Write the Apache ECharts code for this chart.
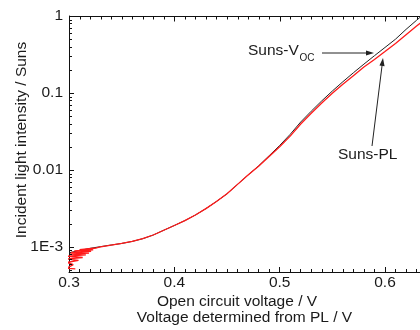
<!DOCTYPE html>
<html><head><meta charset="utf-8">
<script src="https://cdn.jsdelivr.net/npm/echarts@6/dist/echarts.min.js"></script>
<style>html,body{margin:0;padding:0;background:#fff}#c{width:420px;height:330px}</style>
</head><body><div id="c"></div>
<script>
// Suns-Voc (black)
const vocVoltage = [0.30,0.31,0.32,0.33,0.34,0.35,0.36,0.37,0.38,0.39,0.40,0.41,0.42,0.43,0.44,0.45,0.46,0.47,0.48,0.49,0.50,0.51,0.52,0.53,0.54,0.55,0.56,0.57,0.58,0.59,0.60,0.61,0.62,0.63,0.64];
const vocSuns = [8.4e-4,9.0e-4,9.6e-4,1.01e-3,1.06e-3,1.11e-3,1.18e-3,1.28e-3,1.43e-3,1.65e-3,1.9e-3,2.2e-3,2.6e-3,3.15e-3,3.9e-3,4.9e-3,6.5e-3,8.6e-3,0.0113,0.0153,0.0208,0.0290,0.042,0.058,0.079,0.106,0.140,0.183,0.237,0.305,0.39,0.50,0.67,0.88,1.15];
// Suns-PL (red), noisy at the low-intensity end
const plVoltage = [0.306,0.298,0.304,0.298,0.309,0.298,0.313,0.298,0.316,0.301,0.319,0.302,0.321,0.305,0.323,0.310,0.326,0.33,0.34,0.35,0.36,0.37,0.38,0.39,0.40,0.41,0.42,0.43,0.44,0.45,0.46,0.47,0.48,0.49,0.50,0.51,0.52,0.53,0.54,0.55,0.56,0.57,0.58,0.59,0.60,0.61,0.62,0.63,0.64];
const plSuns = [5.2e-4,5.3e-4,5.9e-4,6.3e-4,6.7e-4,7.0e-4,7.3e-4,7.6e-4,7.9e-4,8.1e-4,8.3e-4,8.5e-4,8.8e-4,8.9e-4,9.2e-4,9.2e-4,9.7e-4,1.0e-3,1.06e-3,1.11e-3,1.18e-3,1.28e-3,1.43e-3,1.65e-3,1.9e-3,2.2e-3,2.6e-3,3.15e-3,3.9e-3,4.9e-3,6.5e-3,8.6e-3,0.0112,0.0150,0.0200,0.0275,0.0395,0.0545,0.0740,0.099,0.130,0.168,0.217,0.272,0.345,0.44,0.57,0.74,0.95];
const xTickLabels = ['0.3','0.4','0.5','0.6'];
const xMajorTicks = [0.3,0.4,0.5,0.6];
const xMinorTicks = [0.31,0.32,0.33,0.34,0.35,0.36,0.37,0.38,0.39,0.41,0.42,0.43,0.44,0.45,0.46,0.47,0.48,0.49,0.51,0.52,0.53,0.54,0.55,0.56,0.57,0.58,0.59,0.61,0.62,0.63];
const yTickLabels = {'0':'1','-1':'0.1','-2':'0.01','-3':'1E-3'};
const yMinorTicks = [5e-4,6e-4,7e-4,8e-4,9e-4,2e-3,3e-3,4e-3,5e-3,6e-3,7e-3,8e-3,9e-3,2e-2,3e-2,4e-2,5e-2,6e-2,7e-2,8e-2,9e-2,0.2,0.3,0.4,0.5,0.6,0.7,0.8,0.9];

const FONT = "'Liberation Sans', Arial, sans-serif";
const TXT = '#1a1a1a';
const FS = 15.5;
const Y_TOP = 1;

function arrow(x1,y1,x2,y2){
  const dx=x2-x1, dy=y2-y1, L=Math.hypot(dx,dy), ux=dx/L, uy=dy/L, nx=-uy, ny=ux;
  const hl=8, hw=2.6, bx=x2-ux*hl, by=y2-uy*hl;
  return [
    {type:'line', shape:{x1:x1,y1:y1,x2:bx+ux*1,y2:by+uy*1}, style:{stroke:'#222',lineWidth:1}},
    {type:'polygon', shape:{points:[[x2,y2],[bx+nx*hw,by+ny*hw],[bx-nx*hw,by-ny*hw]]}, style:{fill:'#222'}}
  ];
}

const chart = echarts.init(document.getElementById('c'), null, {renderer:'canvas'});
chart.setOption({
  animation:false,
  backgroundColor:'#fff',
  grid:{left:69, top:16, width:421.3, bottom:58, containLabel:false, outerBoundsMode:'none'},
  xAxis:{
    type:'value', position:'bottom', min:0.3, max:0.7, interval:0.1,
    axisLine:{show:true, onZero:false, lineStyle:{color:'#111', width:1}},
    axisTick:{show:true, inside:true, length:5, lineStyle:{color:'#111'}},
    minorTick:{show:true, splitNumber:10, length:3, lineStyle:{color:'#111'}},
    splitLine:{show:false}, minorSplitLine:{show:false},
    axisLabel:{show:true, margin:3, color:TXT, fontFamily:FONT, fontSize:FS,
      formatter:v=>{const i=Math.round((v-0.3)*10);return (Math.abs(v-0.3-i*0.1)<1e-6 && xTickLabels[i])?xTickLabels[i]:'';}}
  },
  yAxis:{
    type:'log', logBase:10, min:4.73e-4, max:1,
    axisLine:{show:true, onZero:false, lineStyle:{color:'#111', width:1}},
    axisTick:{show:true, inside:true, length:5, lineStyle:{color:'#111'}},
    minorTick:{show:false}, splitLine:{show:false},
    axisLabel:{show:true, margin:6, color:TXT, fontFamily:FONT, fontSize:FS,
      formatter:v=>{const lg=Math.log10(v), r=Math.round(lg);return Math.abs(lg-r)<1e-6 && yTickLabels[String(r)]!==undefined ? yTickLabels[String(r)] : '';}}
  },
  series:[
    {type:'line', name:'Suns-Voc', data:vocVoltage.map((v,i)=>[v,vocSuns[i]]),
      showSymbol:false, symbol:'none', lineStyle:{color:'#222', width:1}, z:3},
    {type:'line', name:'Suns-PL', data:plVoltage.map((v,i)=>[v,plSuns[i]]),
      showSymbol:false, symbol:'none', lineStyle:{color:'#ff1a1a', width:1.3}, z:4},
    {type:'custom', name:'yMinor', silent:true, clip:false, z:5,
      data:yMinorTicks.map(v=>[0.3,v]),
      renderItem:(params, api)=>{const p=api.coord([api.value(0),api.value(1)]);const y=Math.round(p[1])+0.5;
        return {type:'line', shape:{x1:p[0],y1:y,x2:p[0]+3,y2:y}, style:{stroke:'#111', lineWidth:1}};}},
    {type:'custom', name:'topFrame', silent:true, clip:false, z:6,
      data:[[0.3, Y_TOP, 0.7]],
      renderItem:(params, api)=>{const a=api.coord([api.value(0),api.value(1)]);const b=api.coord([api.value(2),api.value(1)]);
        const y=Math.round(a[1])+0.5;
        return {type:'line', shape:{x1:a[0],y1:y,x2:b[0],y2:y}, style:{stroke:'#111', lineWidth:1.2}};}},
    {type:'custom', name:'topTicks', silent:true, clip:false, z:6,
      data:xMajorTicks.map(v=>[v,Y_TOP,5]).concat(xMinorTicks.map(v=>[v,Y_TOP,3])),
      renderItem:(params, api)=>{const p=api.coord([api.value(0),api.value(1)]);const x=Math.round(p[0])+0.5;const y=Math.round(p[1])+0.5;
        return {type:'line', shape:{x1:x,y1:y,x2:x,y2:y+api.value(2)}, style:{stroke:'#111', lineWidth:1}};}}
  ],
  graphic:[
    {type:'text', x:22, y:140, rotation:Math.PI/2, style:{text:'Incident light intensity / Suns', font:`${FS}px ${FONT}`, fill:TXT, align:'center', verticalAlign:'middle'}},
    {type:'text', x:237, y:302, style:{text:'Open circuit voltage / V', font:`${FS}px ${FONT}`, fill:TXT, align:'center', verticalAlign:'middle'}},
    {type:'text', x:244.5, y:318, style:{text:'Voltage determined from PL / V', font:`${FS}px ${FONT}`, fill:TXT, align:'center', verticalAlign:'middle'}},
    {type:'text', x:248, y:51, style:{text:'Suns-V', font:`${FS}px ${FONT}`, fill:TXT, align:'left', verticalAlign:'middle'}},
    {type:'text', x:299.5, y:58, style:{text:'OC', font:`10px ${FONT}`, fill:TXT, align:'left', verticalAlign:'middle'}},
    {type:'text', x:338, y:155, style:{text:'Suns-PL', font:`${FS}px ${FONT}`, fill:TXT, align:'left', verticalAlign:'middle'}},
    ...arrow(322,53,374,53),
    ...arrow(372,146,383,58)
  ]
});
</script></body></html>
